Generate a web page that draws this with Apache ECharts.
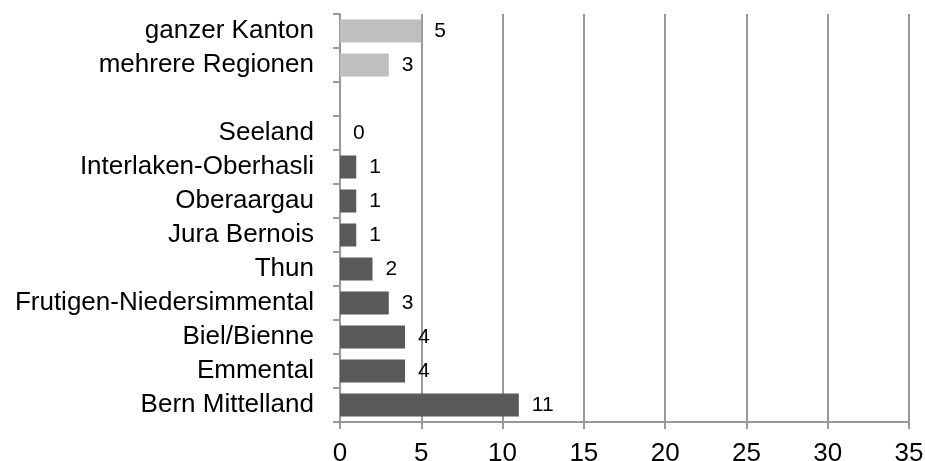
<!DOCTYPE html>
<html>
<head>
<meta charset="utf-8">
<script src="https://cdn.jsdelivr.net/npm/echarts@6/dist/echarts.min.js"></script>
<style>html,body{margin:0;padding:0;background:#fff}#c{width:925px;height:461px}</style>
</head>
<body>
<div id="c"></div>
<script>
const categories = ["Bern Mittelland","Emmental","Biel/Bienne","Frutigen-Niedersimmental","Thun","Jura Bernois","Oberaargau","Interlaken-Oberhasli","Seeland","","mehrere Regionen","ganzer Kanton"];
const values = [11,4,4,3,2,1,1,1,0,null,3,5];
const groups = ["region","region","region","region","region","region","region","region","region","none","other","other"];
const xTicks = [0,5,10,15,20,25,30,35];

const colorMap = {region:"#595959", other:"#bfbfbf", none:"#bfbfbf"};
const font = "'Liberation Sans', Arial, sans-serif";
const lineCol = '#999999';
const chart = echarts.init(document.getElementById('c'));
chart.setOption({
  animation:false,
  grid:{left:340, top:14, right:16, bottom:39, containLabel:false, outerBoundsMode:'none'},
  xAxis:{
    type:'value', min:xTicks[0], max:xTicks[xTicks.length-1], interval:5,
    axisLine:{show:true, lineStyle:{color:lineCol, width:2}},
    axisTick:{show:true, length:7, lineStyle:{color:lineCol, width:2}},
    axisLabel:{fontSize:26, color:'#000', fontFamily:font, margin:19, hideOverlap:false},
    splitLine:{show:true, lineStyle:{color:lineCol, width:2}}
  },
  yAxis:{
    type:'category', data:categories,
    axisLine:{show:true, lineStyle:{color:lineCol, width:2}},
    axisTick:{show:true, length:7, interval:0, lineStyle:{color:lineCol, width:2}},
    axisLabel:{fontSize:26, color:'#000', fontFamily:font, margin:26, interval:0},
    splitLine:{show:false}
  },
  series:[{
    type:'bar', barWidth:23,
    data: values.map((v,i)=>({value:v, itemStyle:{color:colorMap[groups[i]]}})),
    label:{show:true, position:'right', distance:13, fontSize:21, color:'#000', fontFamily:font}
  }]
});
</script>
</body>
</html>
